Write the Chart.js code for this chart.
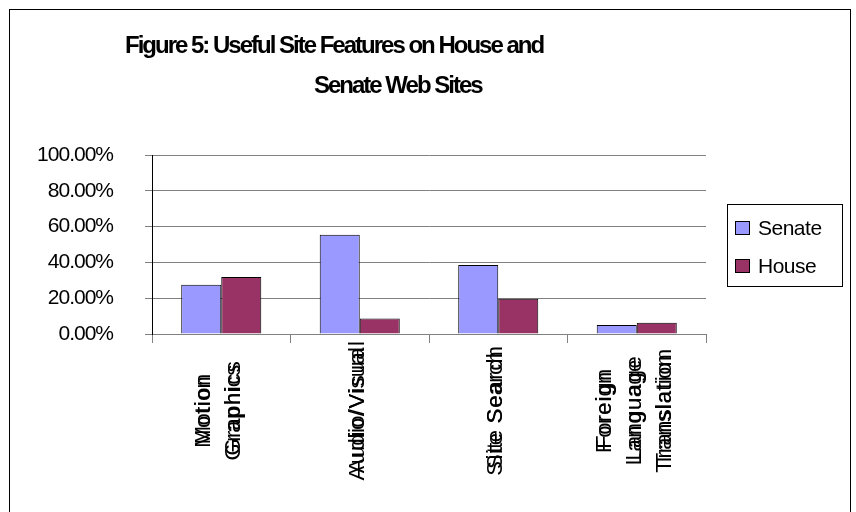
<!DOCTYPE html>
<html>
<head>
<meta charset="utf-8">
<script src="https://cdn.jsdelivr.net/npm/chart.js@4"></script>
<style>
  html, body { margin: 0; padding: 0; background: #fff; }
  #chart { display: block; }
</style>
</head>
<body>
<canvas id="chart" width="856" height="512"></canvas>
<script>
const categories = [
  ["Motion", "Graphics"],
  ["Audio/Visual"],
  ["Site Search"],
  ["Foreign", "Language", "Translation"]
];
const senate = [0.275, 0.555, 0.385, 0.05];
const house = [0.318, 0.086, 0.197, 0.063];
const yTicks = [0, 0.2, 0.4, 0.6, 0.8, 1];
const titleLines = ["Figure 5: Useful Site Features on House and", "Senate Web Sites"];

// frame, title, rotated category labels and the boxed legend
const chartDecor = {
  id: "chartDecor",
  beforeDraw(chart) {
    // y tick labels are drawn tight, like the rest of the text
    chart.ctx.letterSpacing = "-1px";
  },
  afterDatasetsDraw(chart) {
    chart.ctx.letterSpacing = "0px";
  },
  afterDraw(chart) {
    const { ctx } = chart;
    const xs = chart.scales.x;

    ctx.save();
    ctx.strokeStyle = "#000";
    ctx.lineWidth = 1;
    ctx.strokeRect(9.5, 9.5, 841, 620);

    ctx.fillStyle = "#000";
    ctx.font = "bold 24px Arial, 'Liberation Sans', sans-serif";
    ctx.textAlign = "left";
    ctx.textBaseline = "alphabetic";
    ctx.letterSpacing = "-2px";
    ctx.fillText(titleLines[0], 125, 53);
    ctx.fillText(titleLines[1], 314, 93);

    // category labels, read bottom to top, centred below each group
    ctx.font = "22px Arial, 'Liberation Sans', sans-serif";
    ctx.textAlign = "center";
    ctx.textBaseline = "middle";
    categories.forEach((lines, i) => {
      const cx = xs.getPixelForValue(i) - 2;
      const gap = 30;
      lines.forEach((line, j) => {
        const x = cx + (j - (lines.length - 1) / 2) * gap;
        ctx.save();
        ctx.translate(x, 410);
        ctx.rotate(-Math.PI / 2);
        ctx.letterSpacing = "1.6px";
        ctx.fillText(line, 0, 0);
        ctx.letterSpacing = "0.4px";
        ctx.fillText(line, 0, 0);
        ctx.restore();
      });
    });

    // legend
    ctx.letterSpacing = "-0.5px";
    ctx.strokeRect(727.5, 204.5, 115, 82);
    ctx.font = "21px Arial, 'Liberation Sans', sans-serif";
    ctx.textAlign = "left";
    chart.data.datasets.forEach((ds, i) => {
      const y = 221 + i * 38;
      ctx.fillStyle = ds.backgroundColor;
      ctx.fillRect(735, y, 15, 14);
      ctx.strokeStyle = "#000";
      ctx.strokeRect(735.5, y + 0.5, 14, 13);
      ctx.fillStyle = "#000";
      ctx.fillText(ds.label, 758, y + 8);
    });
    ctx.restore();
  }
};

new Chart(document.getElementById("chart"), {
  type: "bar",
  data: {
    labels: categories.map((c) => c.join(" ")),
    datasets: [
      {
        label: "Senate",
        data: senate,
        backgroundColor: "#9999FF",
        borderColor: "#000",
        borderWidth: 1,
        categoryPercentage: 0.578,
        barPercentage: 1
      },
      {
        label: "House",
        data: house,
        backgroundColor: "#993366",
        borderColor: "#000",
        borderWidth: 1,
        categoryPercentage: 0.578,
        barPercentage: 1
      }
    ]
  },
  options: {
    responsive: false,
    animation: false,
    layout: { padding: { left: 0, right: 150, top: 155, bottom: 0 } },
    plugins: {
      legend: { display: false },
      title: { display: false },
      tooltip: { enabled: false }
    },
    scales: {
      x: {
        grid: {
          offset: true,
          drawOnChartArea: false,
          color: "#808080",
          tickLength: 9
        },
        border: { color: "#808080" },
        ticks: { display: false },
        afterFit(scale) {
          scale.height = 178;
        }
      },
      y: {
        min: 0,
        max: 1,
        afterBuildTicks(scale) {
          scale.ticks = yTicks.map((v) => ({ value: v }));
        },
        grid: { color: "#808080", tickLength: 7 },
        border: { color: "#000" },
        ticks: {
          color: "#000",
          padding: 32,
          font: { family: "Arial, 'Liberation Sans', sans-serif", size: 21 },
          callback: (v) => (v * 100).toFixed(2) + "%"
        },
        afterFit(scale) {
          scale.width = 152;
        }
      }
    }
  },
  plugins: [chartDecor]
});
</script>
</body>
</html>
